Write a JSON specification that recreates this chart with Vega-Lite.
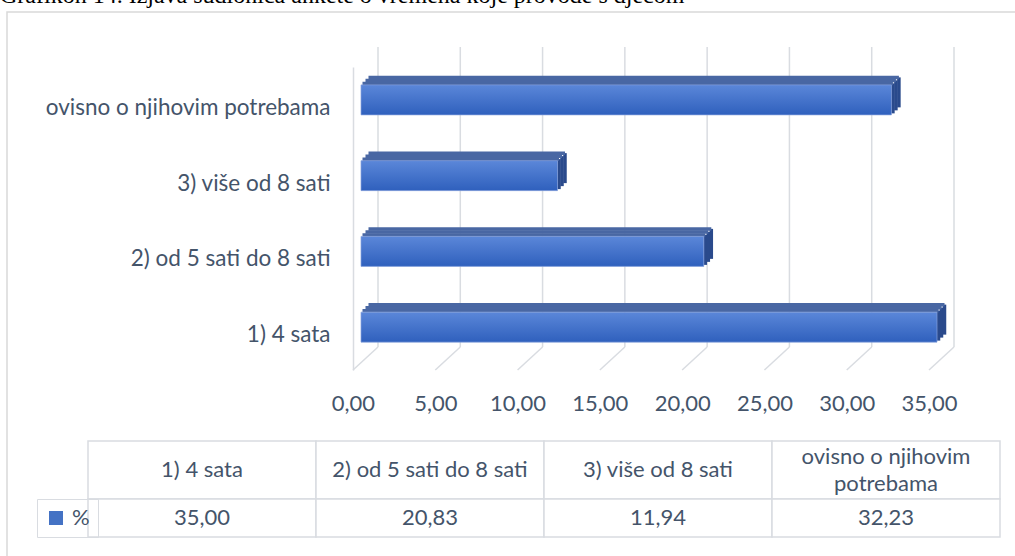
{
  "$schema": "https://vega.github.io/schema/vega-lite/v6.json",
  "width": 1010,
  "height": 560,
  "autosize": {"type": "none"},
  "padding": {"left": 7, "top": 12, "right": 0, "bottom": 0},
  "background": "white",
  "title": {
    "text": "Grafikon 14. Izjava sudionica ankete o vremena koje provode s djecom",
    "anchor": "start",
    "frame": "group",
    "font": "Liberation Serif",
    "fontSize": 24,
    "fontWeight": "normal",
    "color": "#000000",
    "baseline": "bottom",
    "offset": -20,
    "dx": -7
  },
  "config": {
    "view": {"stroke": "#d9d9d9", "strokeWidth": 1.5},
    "locale": {"number": {"decimal": ",", "thousands": ".", "grouping": [3], "currency": ["", " kn"]}},
    "font": "Lato"
  },
  "datasets": {
    "rows": [
      {"category": "1) 4 sata", "header": "1) 4 sata", "value": 35.00, "series": "%"},
      {"category": "2) od 5 sati do 8 sati", "header": "2) od 5 sati do 8 sati", "value": 20.83, "series": "%"},
      {"category": "3) više od 8 sati", "header": "3) više od 8 sati", "value": 11.94, "series": "%"},
      {"category": "ovisno o njihovim potrebama", "header": "ovisno o njihovim\npotrebama", "value": 32.23, "series": "%"}
    ],
    "ticks": [
      {"tick": 0}, {"tick": 5}, {"tick": 10}, {"tick": 15}, {"tick": 20}, {"tick": 25}, {"tick": 30}, {"tick": 35}
    ]
  },
  "layer": [
    {
      "data": {"name": "ticks"},
      "mark": {"type": "tick", "color": "#d9dce1", "opacity": 1, "thickness": 1.5, "size": 300, "xOffset": 25, "yOffset": -95},
      "encoding": {
        "x": {"field": "tick", "type": "quantitative", "scale": {"domain": [0, 35], "range": [346, 922], "nice": false, "zero": false}, "axis": null}
      }
    },
    {
      "data": {"name": "ticks"},
      "mark": {"type": "point", "shape": "M 0.5 -0.46 L -0.5 0.46", "filled": false, "color": "#d9dce1", "opacity": 1, "strokeWidth": 1.5, "size": 2500, "xOffset": 12.5, "yOffset": 66.5},
      "encoding": {
        "x": {"field": "tick", "type": "quantitative", "scale": {"domain": [0, 35], "range": [346, 922], "nice": false, "zero": false}, "axis": null}
      }
    },
    {
      "data": {"name": "rows"},
      "mark": {"type": "tick", "color": "#2a4a8c", "opacity": 1, "thickness": 3.5, "size": 30, "xOffset": 9.5, "yOffset": -6.5},
      "encoding": {
        "x": {"field": "value", "type": "quantitative", "scale": {"domain": [0, 35], "range": [346, 922], "nice": false, "zero": false}, "axis": null},
        "y": {"field": "category", "type": "nominal", "scale": {"domain": ["ovisno o njihovim potrebama", "3) više od 8 sati", "2) od 5 sati do 8 sati", "1) 4 sata"], "range": [55, 358], "paddingInner": 0, "paddingOuter": 0}, "axis": null}
      }
    },
    {
      "data": {"name": "rows"},
      "mark": {"type": "tick", "color": "#2a4a8c", "opacity": 1, "thickness": 3.5, "size": 30, "xOffset": 12.5, "yOffset": -9.5},
      "encoding": {
        "x": {"field": "value", "type": "quantitative", "scale": {"domain": [0, 35], "range": [346, 922], "nice": false, "zero": false}, "axis": null},
        "y": {"field": "category", "type": "nominal", "scale": {"domain": ["ovisno o njihovim potrebama", "3) više od 8 sati", "2) od 5 sati do 8 sati", "1) 4 sata"], "range": [55, 358], "paddingInner": 0, "paddingOuter": 0}, "axis": null}
      }
    },
    {
      "data": {"name": "rows"},
      "mark": {"type": "tick", "color": "#2a4a8c", "opacity": 1, "thickness": 3.5, "size": 30, "xOffset": 15.5, "yOffset": -12.5},
      "encoding": {
        "x": {"field": "value", "type": "quantitative", "scale": {"domain": [0, 35], "range": [346, 922], "nice": false, "zero": false}, "axis": null},
        "y": {"field": "category", "type": "nominal", "scale": {"domain": ["ovisno o njihovim potrebama", "3) više od 8 sati", "2) od 5 sati do 8 sati", "1) 4 sata"], "range": [55, 358], "paddingInner": 0, "paddingOuter": 0}, "axis": null}
      }
    },
    {
      "data": {"name": "rows"},
      "mark": {"type": "bar", "size": 3.5, "color": "#4967a3", "xOffset": 9.5, "yOffset": -21.5},
      "encoding": {
        "x": {"field": "value", "type": "quantitative", "scale": {"domain": [0, 35], "range": [346, 922], "nice": false, "zero": false}, "axis": null},
        "y": {"field": "category", "type": "nominal", "scale": {"domain": ["ovisno o njihovim potrebama", "3) više od 8 sati", "2) od 5 sati do 8 sati", "1) 4 sata"], "range": [55, 358], "paddingInner": 0, "paddingOuter": 0}, "axis": null}
      }
    },
    {
      "data": {"name": "rows"},
      "mark": {"type": "bar", "size": 3.5, "color": "#4967a3", "xOffset": 12.5, "yOffset": -24.5},
      "encoding": {
        "x": {"field": "value", "type": "quantitative", "scale": {"domain": [0, 35], "range": [346, 922], "nice": false, "zero": false}, "axis": null},
        "y": {"field": "category", "type": "nominal", "scale": {"domain": ["ovisno o njihovim potrebama", "3) više od 8 sati", "2) od 5 sati do 8 sati", "1) 4 sata"], "range": [55, 358], "paddingInner": 0, "paddingOuter": 0}, "axis": null}
      }
    },
    {
      "data": {"name": "rows"},
      "mark": {"type": "bar", "size": 3.5, "color": "#4967a3", "xOffset": 15.5, "yOffset": -27.5},
      "encoding": {
        "x": {"field": "value", "type": "quantitative", "scale": {"domain": [0, 35], "range": [346, 922], "nice": false, "zero": false}, "axis": null},
        "y": {"field": "category", "type": "nominal", "scale": {"domain": ["ovisno o njihovim potrebama", "3) više od 8 sati", "2) od 5 sati do 8 sati", "1) 4 sata"], "range": [55, 358], "paddingInner": 0, "paddingOuter": 0}, "axis": null}
      }
    },
    {
      "data": {"name": "rows"},
      "mark": {
        "type": "bar", "size": 30, "xOffset": 8, "yOffset": -5,
        "fill": {"gradient": "linear", "x1": 0, "y1": 0, "x2": 0, "y2": 1, "stops": [{"offset": 0, "color": "#5b87d9"}, {"offset": 1, "color": "#2f60bd"}]},
        "stroke": "#86a2dc", "strokeWidth": 0.7
      },
      "encoding": {
        "x": {
          "field": "value", "type": "quantitative",
          "scale": {"domain": [0, 35], "range": [346, 922], "nice": false, "zero": false},
          "axis": {
            "values": [0, 5, 10, 15, 20, 25, 30, 35],
            "format": ".2f",
            "offset": -202,
            "domain": false, "ticks": false, "tickSize": 0, "grid": false,
            "labelFont": "Lato", "labelFontSize": 22, "labelColor": "#44546a",
            "labelPadding": 33, "labelBaseline": "middle",
            "labelFlush": false, "labelOverlap": false,
            "title": null
          }
        },
        "y": {
          "field": "category", "type": "nominal",
          "scale": {"domain": ["ovisno o njihovim potrebama", "3) više od 8 sati", "2) od 5 sati do 8 sati", "1) 4 sata"], "range": [55, 358], "paddingInner": 0, "paddingOuter": 0},
          "axis": {
            "offset": -346,
            "domain": true, "domainColor": "#d9dce1", "domainWidth": 1.5,
            "ticks": false, "tickSize": 0, "grid": false,
            "labelFont": "Lato", "labelFontSize": 22.5, "labelColor": "#44546a",
            "labelPadding": 23, "labelOffset": 3, "labelLimit": 400,
            "title": null
          }
        }
      }
    },
    {
      "data": {"name": "rows"},
      "mark": {"type": "rect", "fill": "white", "stroke": "#d9dce1", "strokeWidth": 1.5},
      "encoding": {
        "x": {"field": "category", "type": "nominal", "scale": {"type": "band", "domain": ["1) 4 sata", "2) od 5 sati do 8 sati", "3) više od 8 sati", "ovisno o njihovim potrebama"], "range": [81, 993], "paddingInner": 0, "paddingOuter": 0}, "axis": null},
        "y": {"field": "series", "type": "nominal", "scale": {"type": "band", "domain": ["%"], "range": [429, 487], "paddingInner": 0, "paddingOuter": 0}, "axis": null}
      }
    },
    {
      "data": {"name": "rows"},
      "transform": [{"filter": "datum.category !== 'ovisno o njihovim potrebama'"}],
      "mark": {"type": "text", "font": "Lato", "fontSize": 22, "color": "#44546a", "align": "center", "baseline": "middle"},
      "encoding": {
        "x": {"field": "category", "type": "nominal", "scale": {"type": "band", "domain": ["1) 4 sata", "2) od 5 sati do 8 sati", "3) više od 8 sati", "ovisno o njihovim potrebama"], "range": [81, 993], "paddingInner": 0, "paddingOuter": 0}, "axis": null},
        "y": {"field": "series", "type": "nominal", "scale": {"type": "band", "domain": ["%"], "range": [429, 487], "paddingInner": 0, "paddingOuter": 0}, "axis": null},
        "text": {"field": "header", "type": "nominal"}
      }
    },
    {
      "data": {"name": "rows"},
      "transform": [{"filter": "datum.category === 'ovisno o njihovim potrebama'"}],
      "mark": {"type": "text", "font": "Lato", "fontSize": 22, "color": "#44546a", "align": "center", "baseline": "middle", "lineBreak": "\n", "lineHeight": 27, "dy": -13.5},
      "encoding": {
        "x": {"field": "category", "type": "nominal", "scale": {"type": "band", "domain": ["1) 4 sata", "2) od 5 sati do 8 sati", "3) više od 8 sati", "ovisno o njihovim potrebama"], "range": [81, 993], "paddingInner": 0, "paddingOuter": 0}, "axis": null},
        "y": {"field": "series", "type": "nominal", "scale": {"type": "band", "domain": ["%"], "range": [429, 487], "paddingInner": 0, "paddingOuter": 0}, "axis": null},
        "text": {"field": "header", "type": "nominal"}
      }
    },
    {
      "data": {"name": "rows"},
      "mark": {"type": "rect", "fill": "white", "stroke": "#d9dce1", "strokeWidth": 1.5},
      "encoding": {
        "x": {"field": "category", "type": "nominal", "scale": {"type": "band", "domain": ["1) 4 sata", "2) od 5 sati do 8 sati", "3) više od 8 sati", "ovisno o njihovim potrebama"], "range": [81, 993], "paddingInner": 0, "paddingOuter": 0}, "axis": null},
        "y": {"field": "series", "type": "nominal", "scale": {"type": "band", "domain": ["%"], "range": [487, 525], "paddingInner": 0, "paddingOuter": 0}, "axis": null}
      }
    },
    {
      "data": {"name": "rows"},
      "mark": {"type": "text", "font": "Lato", "fontSize": 22, "color": "#44546a", "align": "center", "baseline": "middle"},
      "encoding": {
        "x": {"field": "category", "type": "nominal", "scale": {"type": "band", "domain": ["1) 4 sata", "2) od 5 sati do 8 sati", "3) više od 8 sati", "ovisno o njihovim potrebama"], "range": [81, 993], "paddingInner": 0, "paddingOuter": 0}, "axis": null},
        "y": {"field": "series", "type": "nominal", "scale": {"type": "band", "domain": ["%"], "range": [487, 525], "paddingInner": 0, "paddingOuter": 0}, "axis": null},
        "text": {"field": "value", "type": "quantitative", "format": ".2f"}
      }
    },
    {
      "data": {"name": "rows"},
      "mark": {"type": "square", "opacity": 0},
      "encoding": {
        "x": {"field": "category", "type": "nominal", "scale": {"type": "band", "domain": ["1) 4 sata", "2) od 5 sati do 8 sati", "3) više od 8 sati", "ovisno o njihovim potrebama"], "range": [81, 993], "paddingInner": 0, "paddingOuter": 0}, "axis": null},
        "y": {"field": "series", "type": "nominal", "scale": {"type": "band", "domain": ["%"], "range": [487, 525], "paddingInner": 0, "paddingOuter": 0}, "axis": null},
        "color": {
          "field": "series", "type": "nominal",
          "scale": {"range": ["#4472c4"]},
          "legend": {
            "title": null, "orient": "none", "legendX": 30, "legendY": 487,
            "symbolType": "square", "symbolSize": 196, "symbolOpacity": 1, "symbolStrokeWidth": 0,
            "labelFont": "Lato", "labelFontSize": 22, "labelColor": "#44546a", "labelOffset": 5,
            "padding": 8, "strokeColor": "#d9dce1"
          }
        }
      }
    }
  ],
  "resolve": {"scale": {"x": "independent", "y": "independent"}}
}
